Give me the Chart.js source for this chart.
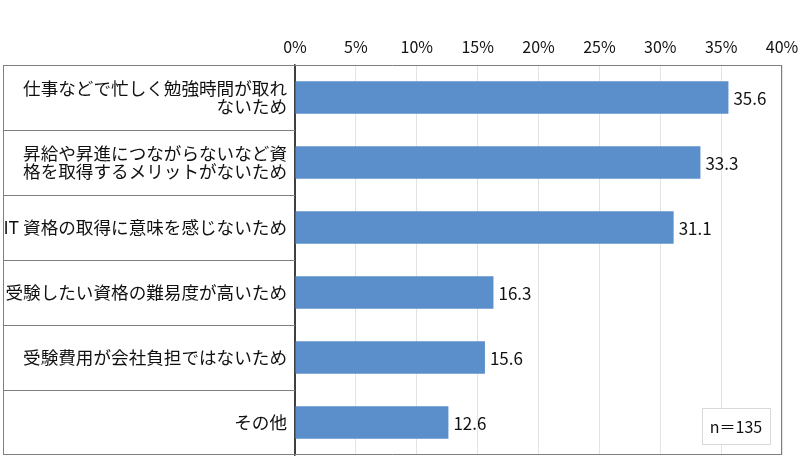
<!DOCTYPE html>
<html lang="ja">
<head>
<meta charset="UTF-8">
<title>資格を取得しない理由</title>
<script src="https://cdn.jsdelivr.net/npm/chart.js"></script>
<style>
    body { margin: 0; background: #fff; }
    #wrap { width: 800px; height: 474px; }
</style>
</head>
<body>
<div id="wrap"><canvas id="chart"></canvas></div>
<script>
const categories = [
    ['仕事などで忙しく勉強時間が取れ', 'ないため'],
    ['昇給や昇進につながらないなど資', '格を取得するメリットがないため'],
    'IT 資格の取得に意味を感じないため',
    '受験したい資格の難易度が高いため',
    '受験費用が会社負担ではないため',
    'その他'
];
const values = [35.6, 33.3, 31.1, 16.3, 15.6, 12.6];
const xTicks = [0, 5, 10, 15, 20, 25, 30, 35, 40];
const sampleNote = 'n＝135';

const FONT = '"Noto Sans CJK JP", "Noto Sans", sans-serif';

// 左側のラベル枠・外枠・値ラベル・n の箱
const framePlugin = {
    id: 'frame',
    afterDatasetsDraw(chart) {
        const ctx = chart.ctx;
        const area = chart.chartArea;
        const y = chart.scales.y;
        const left = 3;
        ctx.save();

        // 枠線
        ctx.strokeStyle = '#7f7f7f';
        ctx.lineWidth = 1;
        ctx.beginPath();
        ctx.moveTo(left + 0.5, area.top);
        ctx.lineTo(left + 0.5, area.bottom);
        ctx.moveTo(left, area.top + 0.5);
        ctx.lineTo(area.right, area.top + 0.5);
        ctx.moveTo(left, area.bottom - 0.5);
        ctx.lineTo(area.right, area.bottom - 0.5);
        ctx.moveTo(area.right - 0.5, area.top);
        ctx.lineTo(area.right - 0.5, area.bottom);
        for (let i = 0; i < categories.length - 1; i++) {
            const yy = Math.round((y.getPixelForValue(i) + y.getPixelForValue(i + 1)) / 2) + 0.5;
            ctx.moveTo(left, yy);
            ctx.lineTo(area.left, yy);
        }
        ctx.stroke();

        // 値ラベル
        const meta = chart.getDatasetMeta(0);
        ctx.fillStyle = '#111';
        ctx.font = '17px ' + FONT;
        ctx.textAlign = 'left';
        ctx.textBaseline = 'middle';
        meta.data.forEach((bar, i) => {
            ctx.fillText(values[i].toFixed(1), bar.x + 5, bar.y + 1);
        });

        // n の箱
        const bx = area.right - 80, by = area.bottom - 47, bw = 68, bh = 36;
        ctx.fillStyle = '#fff';
        ctx.fillRect(bx, by, bw, bh);
        ctx.strokeStyle = '#d9d9d9';
        ctx.strokeRect(bx + 0.5, by + 0.5, bw, bh);
        ctx.fillStyle = '#111';
        ctx.font = '16px ' + FONT;
        ctx.textAlign = 'center';
        ctx.fillText(sampleNote, bx + bw / 2, by + bh / 2 + 1);

        ctx.restore();
    }
};

function noPad(scale) {
    scale.paddingLeft = 0;
    scale.paddingRight = 0;
    scale.paddingTop = 0;
    scale.paddingBottom = 0;
}

new Chart(document.getElementById('chart'), {
    type: 'bar',
    data: {
        labels: categories,
        datasets: [{
            data: values,
            backgroundColor: '#5b8fcb',
            barPercentage: 1,
            categoryPercentage: 0.5
        }]
    },
    options: {
        indexAxis: 'y',
        responsive: true,
        maintainAspectRatio: false,
        animation: false,
        layout: { padding: { left: 3, right: 18, top: 0, bottom: 19 } },
        plugins: {
            legend: { display: false },
            tooltip: { enabled: false }
        },
        scales: {
            x: {
                position: 'top',
                min: 0,
                max: 40,
                afterBuildTicks: (scale) => { scale.ticks = xTicks.map(v => ({ value: v })); },
                afterFit: (scale) => { scale.height = 65; noPad(scale); },
                ticks: {
                    callback: (v) => v + '%',
                    color: '#111',
                    padding: 8,
                    maxRotation: 0,
                    font: { family: FONT, size: 16 }
                },
                grid: {
                    drawTicks: false,
                    color: (c) => c.tick && c.tick.value === 0 ? '#404040' : '#e3e3e3'
                },
                border: { display: false }
            },
            y: {
                afterFit: (scale) => { scale.width = 292; noPad(scale); },
                ticks: {
                    color: '#111',
                    padding: 8,
                    font: { family: FONT, size: 17.6, lineHeight: 1.05 }
                },
                grid: { display: false, drawTicks: false },
                border: { display: true, color: '#404040', width: 1.5 }
            }
        }
    },
    plugins: [framePlugin]
});
</script>
</body>
</html>
